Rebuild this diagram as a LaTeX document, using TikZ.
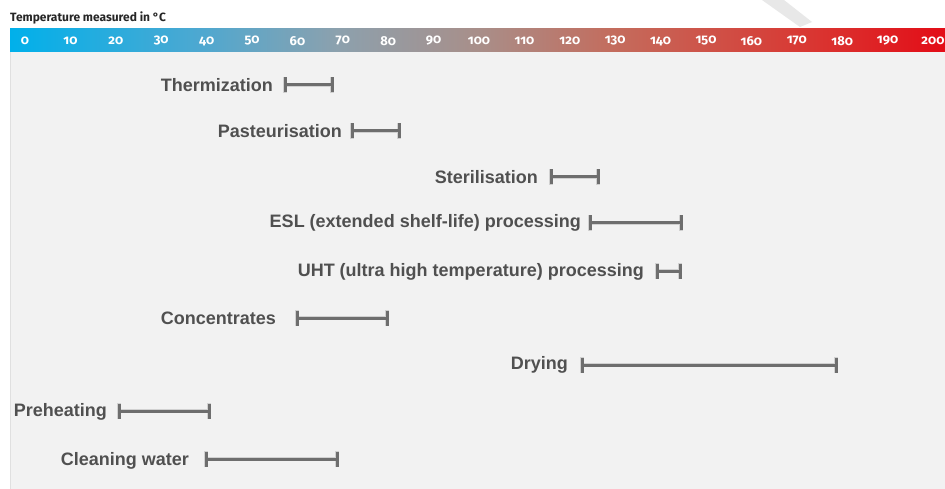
\documentclass[tikz,border=0pt]{standalone}
\usepackage{fontspec}
\setmainfont{Liberation Sans}
\newfontfamily\scalefont[Numbers=OldStyle]{Fira Sans}
\pgfdeclarehorizontalshading{tempbar}{100bp}{rgb(0bp)=(0,0.69,0.92); rgb(25bp)=(0,0.69,0.92); rgb(35bp)=(0.30,0.66,0.82); rgb(42.5bp)=(0.55,0.63,0.68); rgb(50bp)=(0.66,0.56,0.54); rgb(57.5bp)=(0.77,0.42,0.36); rgb(67.5bp)=(0.85,0.22,0.20); rgb(75bp)=(0.89,0.05,0.09); rgb(100bp)=(0.89,0.05,0.09)}
\definecolor{panel}{HTML}{F2F2F2}
\definecolor{labelgray}{HTML}{505050}
\definecolor{bargray}{HTML}{6E6E6E}
\tikzset{
  lbl/.style={anchor=east, inner sep=0pt, text=labelgray, font=\fontsize{18}{20}\selectfont\bfseries},
  rangebar/.style={draw=bargray, line width=3pt},
  rangeshadow/.style={draw=black!18, line width=3.6pt},
  tick/.style={text=white, inner sep=0pt, font=\scalefont\fontsize{13}{13}\selectfont\bfseries},
}
\begin{document}
\begin{tikzpicture}[x=1pt,y=-1pt]
\useasboundingbox (0,0) rectangle (945,489);
\fill[white] (0,0) rectangle (945,489);
% faint watermark stroke
\fill[black!9] (762,0) -- (784,0) -- (812,22) -- (800,27) -- cycle;
% panel
\fill[panel] (10,52) rectangle (945,489);
\draw[black!12, line width=1pt] (10,52) -- (10,489);
% temperature bar
\shade[shading=tempbar] (10,29) rectangle (945,52);
\node[anchor=west, inner sep=0pt, font=\scalefont\fontsize{12}{12}\selectfont\bfseries, text=black!85] (title) at (10,18) {Temperature measured in °C};
\foreach \t [count=\i from 0] in {0,10,20,30,40,50,60,70,80,90,100,110,120,130,140,150,160,170,180,190,200}
  \node[tick] (t\i) at ({25+4.54*\t},41) {\t};

% rows
\node[lbl] (thermL) at (273,85) {Thermization};
\coordinate (thermA) at (285,85); \coordinate (thermB) at (332,85);
\node[lbl] (pastL) at (342,131) {Pasteurisation};
\coordinate (pastA) at (352,131); \coordinate (pastB) at (399,131);
\node[lbl] (sterL) at (538,177) {Sterilisation};
\coordinate (sterA) at (551,177); \coordinate (sterB) at (598,177);
\node[lbl] (eslL) at (581,223) {ESL (extended shelf-life) processing};
\coordinate (eslA) at (590,223); \coordinate (eslB) at (681,223);
\node[lbl] (uhtL) at (644,272) {UHT (ultra high temperature) processing};
\coordinate (uhtA) at (657,271); \coordinate (uhtB) at (680,271);
\node[lbl] (concL) at (276,318) {Concentrates};
\coordinate (concA) at (297,318); \coordinate (concB) at (387,318);
\node[lbl] (dryL) at (568,365) {Drying};
\coordinate (dryA) at (582,365); \coordinate (dryB) at (836,365);
\node[lbl] (preL) at (107,412) {Preheating};
\coordinate (preA) at (119,411); \coordinate (preB) at (209,411);
\node[lbl] (cleanL) at (189,461) {Cleaning water};
\coordinate (cleanA) at (206,459); \coordinate (cleanB) at (337,459);

\foreach \r in {therm,past,ster,esl,uht,conc,dry,pre,clean}{
  \begin{scope}[shift={(0.8,1.6)}]
    \draw[rangeshadow] (\r A) -- (\r B);
    \draw[rangeshadow] ([yshift=-8]\r A) -- ([yshift=8]\r A);
    \draw[rangeshadow] ([yshift=-8]\r B) -- ([yshift=8]\r B);
  \end{scope}
  \draw[rangebar] (\r A) -- (\r B);
  \draw[rangebar] ([yshift=-7.5]\r A) -- ([yshift=7.5]\r A);
  \draw[rangebar] ([yshift=-7.5]\r B) -- ([yshift=7.5]\r B);
}
\end{tikzpicture}
\end{document}
